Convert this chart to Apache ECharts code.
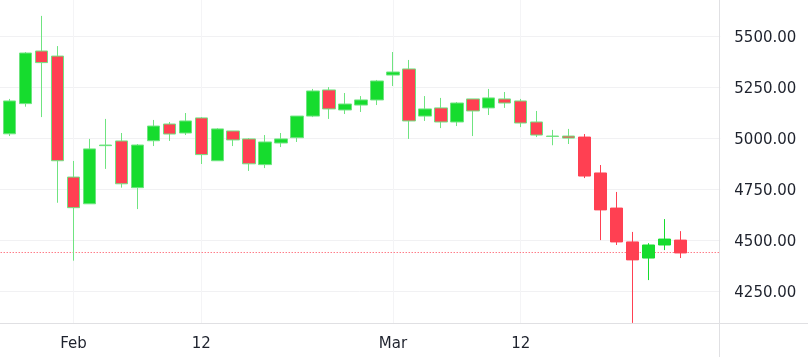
<!DOCTYPE html>
<html>
<head>
<meta charset="utf-8">
<title>ECharts</title>
<style>
html,body { height:100%; width:100%; margin:0; padding:0; background:white; }
#main { width:808px; height:357px; }
</style>
</head>
<body>
<div id="main"></div>
<script src="https://cdn.jsdelivr.net/npm/echarts@6/dist/echarts.min.js"></script>
<script type="text/javascript">
// the first bar sits just off the left edge, the last three bands stay empty
var categories = ['','','','','','Feb','','','','','','','','12','','','','','','','','','','','','Mar','','','','','','','','12','','','','','','','','','','','',''];
var opens  = [5011,5022,5170,5428,5403,4810,4679,4964,4987,4758,4988,5070,5026,5100,4890,5036,4997,4871,4977,5003,5109,5237,5139,5163,5188,5310,5340,5109,5149,5080,5193,5149,5193,5183,5080,5011,5011,5006,4830,4658,4492,4413,4477,4501];
var closes = [5010,5183,5418,5371,4890,4660,4948,4967,4777,4967,5060,5021,5085,4920,5046,4992,4875,4982,4997,5109,5232,5144,5168,5188,5281,5325,5085,5144,5080,5173,5134,5198,5173,5075,5016,5009,5001,4815,4649,4492,4404,4477,4506,4438];
var lows   = [5010,5011,5155,5104,4684,4400,4679,4850,4758,4653,4962,4987,5016,4874,4890,4962,4840,4854,4957,4982,5104,5095,5119,5129,5163,5256,4997,5085,5050,5060,5011,5114,5149,5055,5006,4966,4972,4805,4501,4477,4095,4305,4452,4413];
var highs  = [5011,5193,5423,5600,5452,4889,4997,5095,5026,4972,5090,5080,5124,5104,5050,5036,5001,5016,5026,5109,5242,5251,5222,5207,5286,5423,5384,5207,5198,5178,5193,5242,5227,5193,5134,5041,5046,5021,4869,4737,4541,4486,4604,4545];
var lastPrice = 4440;
var priceMin = 4000, priceMax = 5750, priceStep = 250;

var upColor = '#16dc2e', downColor = '#ff4052';
var upSoft = '#6fe480', downSoft = '#ff8793';
var textColor = '#1e222d', gridColor = '#f1f1f3', frameColor = '#e0e0e3';

var candles = [];
for (var i = 0; i < opens.length; i++) {
    var item = { value: [opens[i], closes[i], lows[i], highs[i]] };
    // wicks of the older bars look washed out in the reference
    if (i < 37) {
        item.itemStyle = { borderColor: upSoft, borderColor0: downSoft };
    }
    candles.push(item);
}

function hasLabel(index, value) {
    return value !== '';
}

var sunX = 766.3, sunY = 344.5;
var sunParts = [{ type: 'circle', shape: { cx: sunX, cy: sunY, r: 6.7 }, style: { fill: 'none', stroke: textColor, lineWidth: 1.3 } }];
var spokes = [[0,-7,0,-10.5],[5,-5,7.4,-7.4],[7,0,10.5,0],[5,5,7.4,7.4],[0,7,0,10.5],[-5,5,-7.4,7.4],[-7,0,-10.5,0],[-5,-5,-7.4,-7.4]];
spokes.forEach(function (s) {
    sunParts.push({ type: 'line', shape: { x1: sunX + s[0], y1: sunY + s[1], x2: sunX + s[2], y2: sunY + s[3] }, style: { stroke: textColor, lineWidth: 1.3 } });
});

var myChart = echarts.init(document.getElementById('main'), null, { renderer: 'canvas' });
myChart.setOption({
    animation: false,
    backgroundColor: '#ffffff',
    textStyle: { fontFamily: 'DejaVu Sans' },
    grid: { left: -14.3, top: -14.7, width: 734.6, height: 357, containLabel: false, outerBoundsMode: 'none' },
    xAxis: [{
        type: 'category',
        position: 'bottom',
        data: categories,
        z: 0,
        axisLine: { show: false },
        axisTick: { show: false },
        axisLabel: { show: false },
        splitLine: { show: true, alignWithLabel: true, interval: hasLabel, lineStyle: { color: '#f4f4f6', width: 1 } }
    }, {
        type: 'category',
        position: 'bottom',
        data: categories,
        z: 4,
        axisLine: { show: false },
        axisTick: { show: false },
        splitLine: { show: false },
        axisLabel: { show: true, interval: 0, margin: 2, verticalAlign: 'middle', color: textColor, fontSize: 15, fontFamily: 'DejaVu Sans' }
    }],
    yAxis: {
        type: 'value',
        position: 'right',
        min: priceMin,
        max: priceMax,
        interval: priceStep,
        z: 0,
        axisLine: { show: false },
        axisTick: { show: false },
        splitLine: { show: true, showMinLine: false, lineStyle: { color: gridColor, width: 1 } },
        axisLabel: {
            margin: 14,
            showMinLabel: false,
            formatter: function (v) { return '{p|' + v.toFixed(2) + '}'; },
            rich: {
                p: { color: textColor, fontSize: 15, fontFamily: 'DejaVu Sans', padding: [3, 0, 0, 0] }
            }
        }
    },
    series: [{
        type: 'candlestick',
        z: 2,
        barWidth: 13,
        data: candles,
        itemStyle: { color: upColor, color0: downColor, borderColor: upColor, borderColor0: downColor, borderWidth: 1 },
        markLine: {
            silent: true,
            z: 1,
            symbol: 'none',
            label: { show: false },
            lineStyle: { color: downColor, type: [1, 2], width: 1 },
            data: [{ yAxis: lastPrice }]
        }
    }],
    graphic: {
        elements: [
            // strip below the plot, hides the overshoot of the gridlines
            { type: 'rect', z: 1, silent: true, shape: { x: 0, y: 323, width: 808, height: 34 }, style: { fill: '#ffffff' } },
            { type: 'line', z: 3, silent: true, shape: { x1: 0, y1: 323.5, x2: 808, y2: 323.5 }, style: { stroke: frameColor, lineWidth: 1 } },
            { type: 'line', z: 3, silent: true, shape: { x1: 719.5, y1: 0, x2: 719.5, y2: 357 }, style: { stroke: frameColor, lineWidth: 1 } },
            { type: 'group', z: 3, silent: true, children: sunParts }
        ]
    }
});
</script>
</body>
</html>
